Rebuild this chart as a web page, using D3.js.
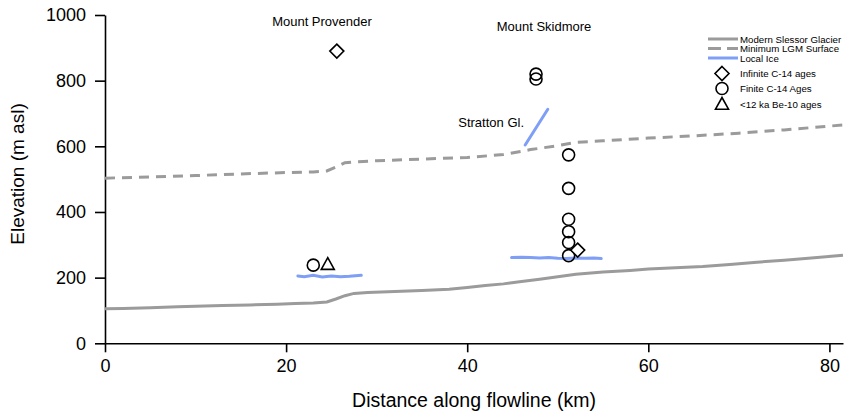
<!DOCTYPE html>
<html><head><meta charset="utf-8">
<script src="https://cdn.jsdelivr.net/npm/d3@7"></script>
<style>
html,body{margin:0;padding:0;background:#fff;}
svg{display:block;font-family:"Liberation Sans",Arial,Helvetica,sans-serif;}
</style></head>
<body>
<svg id="chart" width="847" height="418"></svg>
<script>
// ---- data ----
const xTicks = [0, 20, 40, 60, 80];
const yTicks = [0, 200, 400, 600, 800, 1000];

const modernKm   = [0,2,5,8,10,13,16,19,21,23,24.5,25.5,26.5,27.5,29,32,35,38,40,42,44,46,48,50,52,55,58,60,63,66,69,72,75,78,81.5];
const modernElev = [105,106,108,111,113,115,117,119,121,123,126,135,145,152,155,158,161,165,170,176,181,188,195,203,210,217,222,226,230,234,240,247,253,260,268];

const lgmKm   = [0,5,10,15,20,23,24.5,25.5,26.5,28,30,35,40,44,47,50,52,55,60,65,70,75,81.5];
const lgmElev = [503,507,511,516,520,522,525,537,550,553,556,561,566,575,590,602,612,617,625,632,640,650,665];

const ice1Km   = [21.3,22,23,24,25,26,27,28.3];
const ice1Elev = [205,203,207,202,205,203,204,207];
const ice2Km   = [44.9,46,47,48,49,50,51,52,53,54,54.8];
const ice2Elev = [261,262,261,260,261,259,258,260,259,260,258];
const strattonKm   = [46.4,48.9];
const strattonElev = [604,713];

const infiniteKm   = [25.6, 52.2];
const infiniteElev = [890, 284];
const finiteKm   = [23.0, 47.6, 47.6, 51.2, 51.2, 51.2, 51.2, 51.2, 51.2];
const finiteElev = [238, 820, 805, 574, 472, 378, 340, 307, 267];
const beKm   = [24.6];
const beElev = [241];

const legendLabels = ["Modern Slessor Glacier","Minimum LGM Surface","Local Ice","Infinite C-14 ages","Finite C-14 Ages","<12 ka Be-10 ages"];

// ---- chart ----
const svg = d3.select("#chart");
const x = d3.scaleLinear().domain([0, 81.5]).range([105, 843]);
const y = d3.scaleLinear().domain([0, 1000]).range([343.3, 15]);

const gray = "#9b9b9b", blue = "#7f9ff6";
const line = d3.line().x(d => x(d[0])).y(d => y(d[1]));
const zip = (a, b) => a.map((v, i) => [v, b[i]]);

// axes
const xAxis = svg.append("g").attr("transform", "translate(0,343.3)")
  .call(d3.axisBottom(x).tickValues(xTicks).tickFormat(d3.format("d")).tickSize(9).tickPadding(7).tickSizeOuter(0));
const yAxis = svg.append("g").attr("transform", "translate(105,0)")
  .call(d3.axisLeft(y).tickValues(yTicks).tickFormat(d3.format("d")).tickSize(10).tickPadding(9).tickSizeOuter(0));
[xAxis, yAxis].forEach(g => {
  g.select(".domain").attr("stroke", "#000").attr("stroke-width", 1.6);
  g.selectAll(".tick line").attr("stroke", "#000").attr("stroke-width", 1.6);
  g.selectAll(".tick text").attr("fill", "#000").style("font-size", "18px")
    .style("font-family", '"Liberation Sans",Arial,sans-serif');
});

svg.append("text").attr("x", 474).attr("y", 407).attr("text-anchor", "middle")
  .style("font-size", "19.5px").text("Distance along flowline (km)");
svg.append("text").attr("transform", "translate(24,174) rotate(-90)").attr("text-anchor", "middle")
  .style("font-size", "19px").text("Elevation (m asl)");

// lines
svg.append("path").attr("d", line(zip(modernKm, modernElev))).attr("fill", "none")
  .attr("stroke", gray).attr("stroke-width", 3);
svg.append("path").attr("d", line(zip(lgmKm, lgmElev))).attr("fill", "none")
  .attr("stroke", gray).attr("stroke-width", 3).attr("stroke-dasharray", "10,7");
[[ice1Km, ice1Elev], [ice2Km, ice2Elev], [strattonKm, strattonElev]].forEach(([a, b]) => {
  svg.append("path").attr("d", line(zip(a, b))).attr("fill", "none")
    .attr("stroke", blue).attr("stroke-width", 3).attr("stroke-linecap", "round");
});

// markers
const diamond = (cx, cy, r) => `M${cx},${cy - r}L${cx + r},${cy}L${cx},${cy + r}L${cx - r},${cy}Z`;
const triangle = (cx, cy, r) => `M${cx},${cy - r}L${cx + r * 1.0},${cy + r * 0.8}L${cx - r * 1.0},${cy + r * 0.8}Z`;

finiteKm.forEach((k, i) => {
  svg.append("circle").attr("cx", x(k)).attr("cy", y(finiteElev[i])).attr("r", 6)
    .attr("fill", "none").attr("stroke", "#000").attr("stroke-width", 1.6);
});
infiniteKm.forEach((k, i) => {
  svg.append("path").attr("d", diamond(x(k), y(infiniteElev[i]), 7))
    .attr("fill", "#fff").attr("stroke", "#000").attr("stroke-width", 1.6);
});
beKm.forEach((k, i) => {
  svg.append("path").attr("d", triangle(x(k), y(beElev[i]), 6.5))
    .attr("fill", "none").attr("stroke", "#000").attr("stroke-width", 1.6);
});

// annotations
svg.append("text").attr("x", 322).attr("y", 26).attr("text-anchor", "middle")
  .style("font-size", "13px").text("Mount Provender");
svg.append("text").attr("x", 544).attr("y", 31).attr("text-anchor", "middle")
  .style("font-size", "13px").text("Mount Skidmore");
svg.append("text").attr("x", 524).attr("y", 127).attr("text-anchor", "end")
  .style("font-size", "13px").text("Stratton Gl.");

// legend
const lg = svg.append("g").style("font-size", "9.7px");
const lineRows = [
  {y: 39, dash: null, color: gray},
  {y: 48.5, dash: "13,6", color: gray},
  {y: 58, dash: null, color: blue}
];
lineRows.forEach((r, i) => {
  lg.append("line").attr("x1", 708).attr("x2", 738).attr("y1", r.y).attr("y2", r.y)
    .attr("stroke", r.color).attr("stroke-width", 3).attr("stroke-dasharray", r.dash);
  lg.append("text").attr("x", 740).attr("y", r.y + 3.5).text(legendLabels[i]);
});
lg.append("path").attr("d", diamond(722, 73.5, 7)).attr("fill", "#fff").attr("stroke", "#000").attr("stroke-width", 1.6);
lg.append("circle").attr("cx", 722).attr("cy", 88.5).attr("r", 6).attr("fill", "none").attr("stroke", "#000").attr("stroke-width", 1.6);
lg.append("path").attr("d", triangle(722, 104, 6.5)).attr("fill", "none").attr("stroke", "#000").attr("stroke-width", 1.6);
[73.5, 88.5, 104].forEach((yy, i) => {
  lg.append("text").attr("x", 740).attr("y", yy + 3.5).text(legendLabels[3 + i]);
});
</script>
</body></html>
